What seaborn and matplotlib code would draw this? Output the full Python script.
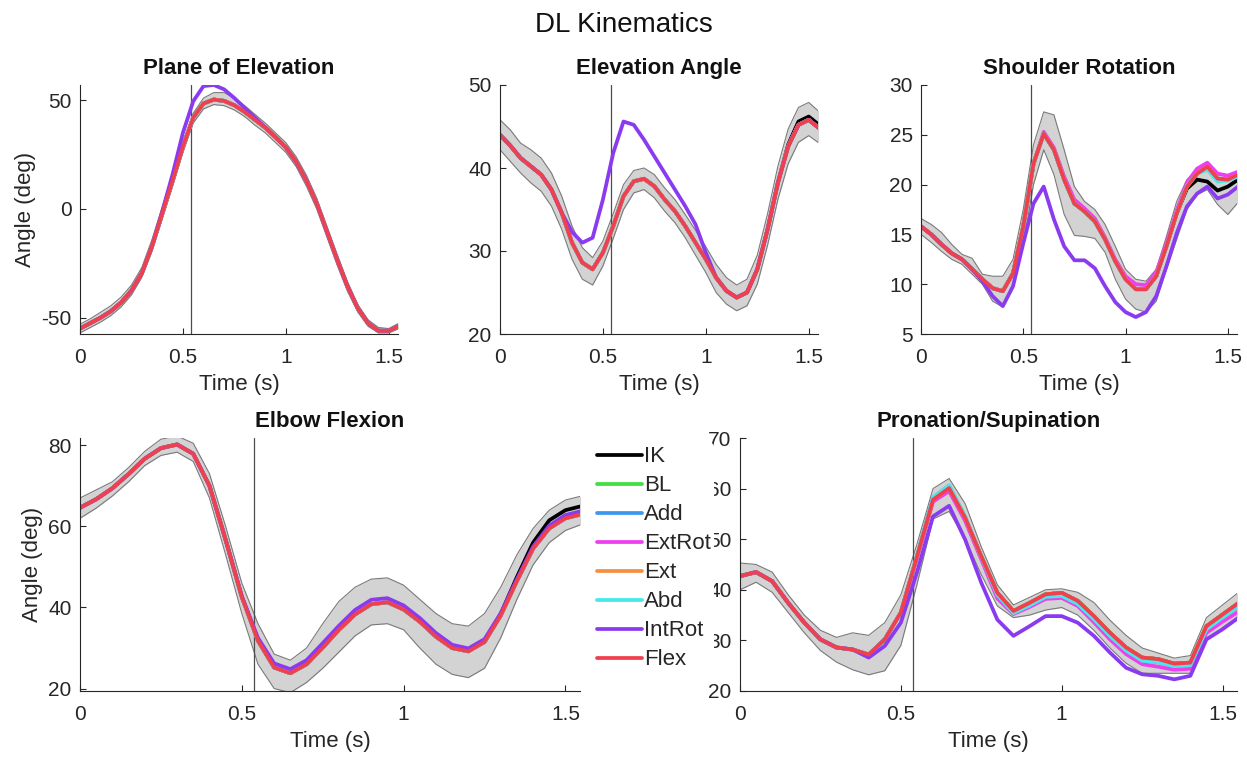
import numpy as np
import pandas as pd
import matplotlib
matplotlib.use("Agg")
import matplotlib.pyplot as plt
import seaborn as sns
from matplotlib.lines import Line2D

sns.set_style("ticks")
plt.rcParams["font.family"] = ["Liberation Sans", "DejaVu Sans"]
plt.rcParams["axes.unicode_minus"] = False
plt.rcParams["lines.solid_joinstyle"] = "round"
plt.rcParams["lines.solid_capstyle"] = "round"

# ---------------- data ----------------
time_s = [0.00, 0.05, 0.10, 0.15, 0.20, 0.25, 0.30, 0.35, 0.40, 0.45, 0.50,
          0.55, 0.60, 0.65, 0.70, 0.75, 0.80, 0.85, 0.90, 0.95, 1.00, 1.05,
          1.10, 1.15, 1.20, 1.25, 1.30, 1.35, 1.40, 1.45, 1.50, 1.55]

models = ["IK", "BL", "Add", "ExtRot", "Ext", "Abd", "IntRot", "Flex"]
model_colors = ["#000000", "#3fe03f", "#3f96ee", "#ee3fee", "#f39043",
                "#46eaea", "#8a3bf0", "#f0404e"]
event_time = 0.537

# Plane of Elevation
plane_main = [-55, -52.5, -50, -47, -43, -37.5, -29.6, -17, -2, 13, 28.6,
              42, 48.5, 50.3, 49.7, 47.7, 44.6, 41, 37.4, 33, 28.3, 21.7,
              13, 2.5, -10.5, -23.5, -35.7, -45.7, -52.6, -56, -56, -53.8]
plane_introt = [-55, -52.5, -50, -47, -43, -37.5, -29.6, -17, -1, 16, 35,
                49.5, 56.5, 57, 55, 51, 46.5, 42, 37.5, 33, 28.3, 21.7,
                13, 2.5, -10.5, -23.5, -35.7, -45.7, -52.6, -56, -56, -53.8]
plane_hi = [-53, -50.5, -47.5, -44.5, -40.5, -35, -27, -14, 1, 16, 31, 44,
            51, 53.5, 53.5, 51, 47.5, 43.5, 39.5, 35, 30.5, 24, 15.5, 5, -8,
            -21, -33.5, -44, -51, -54.5, -55, -52.5]
plane_lo = [-57, -54.5, -52, -49, -45, -39.5, -31.5, -19.5, -4.5, 10.5, 26,
            39.5, 46, 48, 47.5, 45.5, 42.5, 38.5, 35, 30.5, 26, 19.5, 10.5,
            0, -13, -26, -38, -47.5, -54, -57, -57, -55]

# Elevation Angle
elev_main = [44, 42.7, 41.2, 40.2, 39.2, 37.4, 34.6, 31, 28.6, 27.8, 29.8,
             33, 36.6, 38.4, 38.7, 37.8, 36.2, 34.8, 33, 31, 29, 26.8, 25.2,
             24.4, 25, 27.8, 32.6, 38.2, 42.6, 45.2, 45.8, 44.8]
elev_ik = [44, 42.7, 41.2, 40.2, 39.2, 37.4, 34.6, 31, 28.6, 27.8, 29.8,
           33, 36.6, 38.4, 38.7, 37.8, 36.2, 34.8, 33, 31, 29, 26.8, 25.2,
           24.4, 25, 27.8, 32.6, 38.2, 42.8, 45.6, 46.2, 45.2]
elev_introt = [44, 42.7, 41.2, 40.2, 39.2, 37.4, 34.6, 32.3, 31, 31.6, 36.2,
               41.8, 45.6, 45.2, 43.4, 41.4, 39.4, 37.4, 35.4, 33.2, 29.8,
               26.8, 25.2, 24.4, 25, 27.8, 32.6, 38.2, 42.6, 45.2, 45.8, 44.8]
elev_hi = [45.8, 44.6, 43, 42.2, 41.2, 39.4, 36.6, 33, 30.4, 29.2, 31.2,
           34.5, 38, 39.7, 40, 39.2, 37.6, 36.2, 34.4, 32.5, 30.5, 28.4,
           26.8, 25.9, 26.6, 29.5, 34.5, 40.2, 44.7, 47.3, 47.9, 46.8]
elev_lo = [42.2, 40.8, 39.4, 38.2, 37.2, 35.4, 32.6, 29, 26.6, 25.9, 28.2,
           31.5, 35, 37, 37.4, 36.4, 34.8, 33.4, 31.6, 29.5, 27.4, 25, 23.6,
           22.8, 23.4, 26, 30.7, 36.2, 40.5, 43.1, 43.9, 43]

# Shoulder Rotation
shoulder_main = [15.8, 15, 14, 13.1, 12.5, 11.5, 10.5, 9.6, 9.3, 11.1, 15.8,
                 22.1, 25.1, 23.5, 20.5, 18.1, 17.3, 16.3, 14.5, 12.3, 10.5,
                 9.5, 9.5, 10.8, 13.8, 17.1, 19.8, 21.1, 21.8, 20.6, 20.5, 21]
shoulder_ik = [15.8, 15, 14, 13.1, 12.5, 11.5, 10.5, 9.6, 9.3, 11.1, 15.8,
               22.1, 25.1, 23.5, 20.5, 18.1, 17.3, 16.3, 14.5, 12.3, 10.5,
               9.5, 9.5, 10.8, 13.8, 17.1, 19.6, 20.5, 20.3, 19.4, 19.8, 20.5]
shoulder_extrot = [15.8, 15, 14, 13.1, 12.5, 11.5, 10.5, 9.6, 9.3, 11.1, 15.8,
                   22.1, 25.3, 23.7, 20.8, 18.5, 17.6, 16.6, 14.7, 12.5, 10.8,
                   10, 9.9, 11.2, 14.1, 17.4, 20.2, 21.6, 22.2, 21.1, 20.9, 21.3]
shoulder_abd = [15.8, 15, 14, 13.1, 12.5, 11.5, 10.5, 9.6, 9.3, 11.1, 15.8,
                22.1, 25.1, 23.5, 20.5, 18.1, 17.3, 16.3, 14.5, 12.3, 10.5,
                9.5, 9.5, 10.8, 13.8, 17.1, 19.9, 21.1, 21.5, 20.3, 20.4, 20.8]
shoulder_introt = [15.8, 15, 14, 13.1, 12.5, 11.5, 10.3, 8.8, 7.8, 9.8, 14.1,
                   18.1, 19.8, 16.5, 13.8, 12.4, 12.4, 11.6, 9.8, 8.2, 7.2,
                   6.7, 7.2, 8.8, 11.8, 15.1, 17.8, 19.1, 19.8, 18.6, 19, 19.8]
shoulder_hi = [16.6, 16, 15.2, 14, 13, 12.6, 11, 10.8, 10.8, 12.5, 17.5, 24,
               27.3, 27, 23.5, 19.8, 18.3, 17.5, 16, 13.8, 11.5, 10.5, 10.3,
               11.5, 14.8, 18.3, 20.5, 21.5, 22.1, 21, 20.8, 21.2]
shoulder_lo = [15, 14.2, 13.3, 12.5, 12, 11, 10, 8.3, 7.7, 9.6, 14, 20, 23.5,
               21, 17, 14.9, 14.8, 14.6, 13.2, 10.5, 8.5, 7.5, 7.2, 8.3, 11.5,
               14.5, 17.5, 19, 19.5, 18, 17, 18.2]

# Elbow Flexion
elbow_main = [64.6, 66.7, 69.4, 72.9, 76.7, 79.3, 80.2, 77.9, 70, 56.7, 42.6,
              31.8, 25.2, 23.8, 26, 30.1, 34.5, 38.3, 40.8, 41.3, 39.5, 36.5,
              32.8, 30, 29.2, 31.5, 38, 46.5, 54.5, 59.5, 62, 63]
elbow_ik = [64.6, 66.7, 69.4, 72.9, 76.7, 79.3, 80.2, 77.9, 70, 56.7, 42.6,
            31.8, 25.2, 23.8, 26, 30.1, 34.5, 38.3, 40.8, 41.3, 39.5, 36.5,
            32.8, 30, 29.2, 31.5, 38.4, 47.5, 56, 61.5, 64, 65]
elbow_introt = [64.6, 66.7, 69.4, 72.9, 76.7, 79.3, 80.2, 77.9, 70, 56.7,
                42.8, 32.5, 26.2, 24.8, 27, 31.2, 35.5, 39.4, 41.9, 42.3, 40.5,
                37.4, 33.7, 30.8, 29.9, 32.2, 38.6, 47, 55, 60.2, 62.8, 63.8]
elbow_hi = [67, 69, 71, 74.5, 78.5, 81.5, 82.3, 80.5, 73, 60, 46, 36, 28.5,
            27, 30, 36, 41.5, 45, 47, 47.3, 45.5, 42, 38.5, 36, 35.4, 38.5,
            45, 53, 59.5, 64, 66.5, 67.5]
elbow_lo = [62, 64.5, 67.5, 71, 75, 77.5, 78.3, 76, 67, 53, 38.5, 26, 20, 19,
            21.5, 25, 29, 33, 35.7, 36, 34.5, 30, 26, 23.5, 22.7, 25, 32.5,
            42, 50.5, 56, 59, 60.5]

# Pronation/Supination
pron_main = [42.7, 43.5, 41.7, 37.4, 33.5, 30.2, 28.6, 28.2, 27.2, 30.2,
             35.5, 46.5, 57.8, 60.1, 54.2, 46.6, 39.4, 35.8, 37.4, 39.1, 39.4,
             37.8, 34.8, 31.5, 28.6, 26.6, 26.3, 25.4, 25.6, 32.8, 35.1, 37.4]
pron_extrot = [42.7, 43.5, 41.7, 37.4, 33.5, 30.2, 28.6, 28.2, 27.2, 30.2,
               35.5, 46.3, 57.4, 59.5, 53.6, 46, 38.3, 35.2, 36.6, 38.2, 38.4,
               36.8, 33.6, 30.2, 27.3, 25.3, 24.8, 24.2, 24.4, 31.5, 33.7, 35.7]
pron_abd = [42.7, 43.5, 41.7, 37.4, 33.5, 30.2, 28.6, 28.2, 27.2, 30.2,
            35.5, 46.6, 58.2, 60.6, 54.4, 46.5, 39, 35.4, 36.9, 38.6, 38.8,
            37.2, 34.2, 30.9, 28, 26, 25.7, 24.9, 25.1, 32.2, 34.5, 36.8]
pron_introt = [42.7, 43.5, 41.7, 37.4, 33.5, 30.2, 28.6, 28.2, 26.6, 28.9,
               33.5, 43.4, 54.5, 56.6, 49.9, 41.4, 34.1, 30.9, 32.8, 34.8,
               34.8, 33.5, 30.9, 27.6, 24.6, 23.3, 23, 22.3, 23, 30.2, 32.2,
               34.5]
pron_hi = [45.3, 45, 43.5, 39, 35, 32, 30.6, 31.5, 31, 33.5, 39, 49, 60, 62,
           57, 48.5, 41, 37, 38.5, 40, 40.2, 39.5, 37.5, 34, 31, 28.5, 27.5,
           26.5, 27, 34.5, 37, 39.5]
pron_lo = [40, 41.5, 39.5, 35.5, 31.5, 28, 25.7, 24.2, 23.2, 24, 29, 41, 54,
           55.5, 50, 43, 36.8, 34.5, 35, 36, 36.5, 35, 32, 28.5, 25.5, 23.5,
           23.5, 23.5, 23.5, 30, 32.5, 34.7]

panels = [
    dict(title="Plane of Elevation", pos=[80, 85, 398, 334],
         ylim=(-57.5, 57), yticks=[-50, 0, 50], ylabel=True,
         series={"IK": plane_main, "BL": plane_main, "Add": plane_main,
                 "ExtRot": plane_main, "Ext": plane_main, "Abd": plane_main,
                 "IntRot": plane_introt, "Flex": plane_main},
         lo=plane_lo, hi=plane_hi),
    dict(title="Elevation Angle", pos=[500, 85, 818, 334],
         ylim=(20, 50), yticks=[20, 30, 40, 50], ylabel=False,
         series={"IK": elev_ik, "BL": elev_main, "Add": elev_main,
                 "ExtRot": elev_main, "Ext": elev_main, "Abd": elev_main,
                 "IntRot": elev_introt, "Flex": elev_main},
         lo=elev_lo, hi=elev_hi),
    dict(title="Shoulder Rotation", pos=[921, 85, 1237, 334],
         ylim=(5, 30), yticks=[5, 10, 15, 20, 25, 30], ylabel=False,
         series={"IK": shoulder_ik, "BL": shoulder_main, "Add": shoulder_main,
                 "ExtRot": shoulder_extrot, "Ext": shoulder_main,
                 "Abd": shoulder_abd, "IntRot": shoulder_introt,
                 "Flex": shoulder_main},
         lo=shoulder_lo, hi=shoulder_hi),
    dict(title="Elbow Flexion", pos=[80, 438, 580, 691],
         ylim=(19.4, 81.8), yticks=[20, 40, 60, 80], ylabel=True,
         series={"IK": elbow_ik, "BL": elbow_main, "Add": elbow_main,
                 "ExtRot": elbow_main, "Ext": elbow_main, "Abd": elbow_main,
                 "IntRot": elbow_introt, "Flex": elbow_main},
         lo=elbow_lo, hi=elbow_hi),
    dict(title="Pronation/Supination", pos=[740, 438, 1237, 691],
         ylim=(20, 70), yticks=[20, 30, 40, 50, 60, 70], ylabel=False,
         series={"IK": pron_main, "BL": pron_main, "Add": pron_abd,
                 "ExtRot": pron_extrot, "Ext": pron_main, "Abd": pron_abd,
                 "IntRot": pron_introt, "Flex": pron_main},
         lo=pron_lo, hi=pron_hi),
]

W, H = 1247, 759
fig = plt.figure(figsize=(W / 100, H / 100), dpi=100)
ink = "#262626"
palette = dict(zip(models, model_colors))

for p in panels:
    x0, y0, x1, y1 = p["pos"]
    ax = fig.add_axes([x0 / W, 1 - y1 / H, (x1 - x0) / W, (y1 - y0) / H])
    ax.fill_between(time_s, p["lo"], p["hi"], color="#d3d3d3", lw=0, zorder=1)
    sns.lineplot(x=time_s, y=p["lo"], color="#7a7a7a", lw=0.8, ax=ax, zorder=1.2)
    sns.lineplot(x=time_s, y=p["hi"], color="#7a7a7a", lw=0.8, ax=ax, zorder=1.2)
    ax.axvline(event_time, color="#4d4d4d", lw=0.9, zorder=1.5)
    rows = []
    for m in models:
        for tt, v in zip(time_s, p["series"][m]):
            rows.append((tt, v, m))
    df = pd.DataFrame(rows, columns=["Time", "Angle", "Model"])
    sns.lineplot(data=df, x="Time", y="Angle", hue="Model", hue_order=models,
                 palette=palette, linewidth=2.7, estimator=None, legend=False,
                 ax=ax, zorder=2)
    ax.set_xlim(0, 1.545)
    ax.set_ylim(*p["ylim"])
    ax.set_xticks([0, 0.5, 1, 1.5])
    ax.set_xticklabels(["0", "0.5", "1", "1.5"])
    ax.set_yticks(p["yticks"])
    ax.set_yticklabels([str(v) for v in p["yticks"]])
    sns.despine(ax=ax)
    for s in ["left", "bottom"]:
        ax.spines[s].set_color(ink)
        ax.spines[s].set_linewidth(0.8)
    ax.tick_params(axis="both", direction="in", length=4, width=0.8,
                   colors=ink, labelsize=15)
    ax.tick_params(axis="x", pad=10)
    ax.tick_params(axis="y", pad=6)
    ax.set_xlabel("Time (s)", fontsize=16, color=ink, labelpad=5)
    ax.set_ylabel("Angle (deg)" if p["ylabel"] else "", fontsize=16, color=ink,
                  labelpad=4)
    ax.set_title(p["title"], fontsize=16, fontweight="bold", color="#111111",
                 pad=8)

fig.text(0.5, 1 - 25 / H, "DL Kinematics", ha="center", va="center",
         fontsize=20, color="#111111")

handles = [Line2D([0], [0], color=c, lw=2.7) for c in model_colors]
leg = fig.legend(handles, models, loc="upper left",
                 bbox_to_anchor=(594 / W, 1 - 443 / H), fontsize=16,
                 frameon=True, facecolor="white", edgecolor="none",
                 framealpha=1, handlelength=2.0, handletextpad=0.1,
                 labelspacing=0.36, borderpad=0.15, borderaxespad=0)
for txt in leg.get_texts():
    txt.set_color(ink)

fig.savefig("out.png", dpi=100)
